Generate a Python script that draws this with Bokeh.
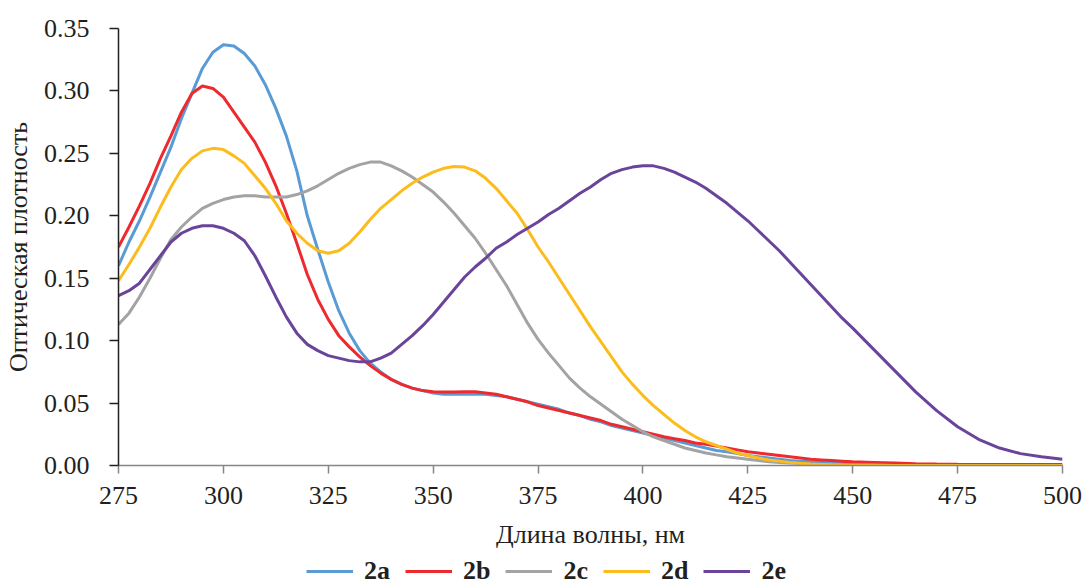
from bokeh.plotting import figure
from bokeh.layouts import column
from bokeh.models import FixedTicker, Legend, LegendItem, Range1d, NumeralTickFormatter
from bokeh.embed import file_html
from bokeh.resources import INLINE

# wavelength grid: 2.5 nm steps up to 450 nm, 5 nm steps afterwards
wavelength = [275 + 2.5 * i for i in range(71)] + [455, 460, 465, 470, 475, 480, 485, 490, 495, 500]

s2a = [0.160, 0.179, 0.196, 0.215, 0.235, 0.255, 0.278, 0.298, 0.318, 0.331,
       0.337, 0.336, 0.330, 0.320, 0.305, 0.286, 0.264, 0.236, 0.200, 0.173,
       0.147, 0.124, 0.106, 0.092, 0.082, 0.075, 0.069, 0.065, 0.062, 0.060,
       0.058, 0.057, 0.057, 0.057, 0.057, 0.057, 0.056, 0.055, 0.053, 0.051,
       0.049, 0.047, 0.045, 0.042, 0.040, 0.037, 0.035, 0.032, 0.030, 0.028,
       0.026, 0.024, 0.022, 0.020, 0.018, 0.016, 0.014, 0.012, 0.011, 0.0095,
       0.008, 0.007, 0.006, 0.005, 0.004, 0.0035, 0.003, 0.0025, 0.002, 0.0018,
       0.0015,
       0.001, 0.0008, 0.0006, 0.0005, 0.0004, 0.0003, 0.0002, 0.0002, 0.0001, 0.0001]
s2b = [0.175, 0.191, 0.208, 0.226, 0.246, 0.264, 0.283, 0.298, 0.304, 0.302,
       0.295, 0.283, 0.271, 0.259, 0.243, 0.224, 0.202, 0.178, 0.153, 0.133,
       0.117, 0.104, 0.095, 0.087, 0.080, 0.074, 0.069, 0.065, 0.062, 0.060,
       0.059, 0.0588, 0.0588, 0.059, 0.059, 0.058, 0.057, 0.055, 0.053, 0.051,
       0.048, 0.046, 0.044, 0.042, 0.040, 0.038, 0.036, 0.033, 0.031, 0.029,
       0.027, 0.025, 0.023, 0.0215, 0.020, 0.018, 0.017, 0.0155, 0.014, 0.0125,
       0.011, 0.010, 0.009, 0.008, 0.007, 0.006, 0.005, 0.0045, 0.004, 0.0035,
       0.003,
       0.0025, 0.002, 0.0015, 0.0012, 0.001, 0.0009, 0.0008, 0.0008, 0.0008, 0.0008]
s2c = [0.113, 0.122, 0.135, 0.150, 0.166, 0.181, 0.191, 0.199, 0.206, 0.210,
       0.213, 0.215, 0.216, 0.216, 0.215, 0.215, 0.215, 0.217, 0.220, 0.224,
       0.229, 0.234, 0.238, 0.241, 0.243, 0.243, 0.240, 0.236, 0.231, 0.225,
       0.219, 0.211, 0.202, 0.192, 0.182, 0.170, 0.157, 0.144, 0.129, 0.114,
       0.101, 0.090, 0.080, 0.070, 0.062, 0.055, 0.049, 0.043, 0.037, 0.032,
       0.027, 0.023, 0.020, 0.017, 0.014, 0.012, 0.010, 0.0085, 0.007, 0.006,
       0.005, 0.004, 0.003, 0.0025, 0.002, 0.0015, 0.001, 0.0008, 0.0006, 0.0004,
       0.0003,
       0.0002, 0.0001, 0.0, 0.0, 0.0, 0.0, 0.0, 0.0, 0.0, 0.0]
s2d = [0.148, 0.161, 0.175, 0.190, 0.207, 0.223, 0.237, 0.246, 0.252, 0.254,
       0.253, 0.248, 0.242, 0.232, 0.222, 0.210, 0.196, 0.186, 0.178, 0.172,
       0.170, 0.172, 0.178, 0.187, 0.197, 0.206, 0.213, 0.220, 0.226, 0.231,
       0.235, 0.238, 0.2395, 0.239, 0.236, 0.230, 0.222, 0.212, 0.202, 0.189,
       0.175, 0.163, 0.150, 0.137, 0.124, 0.111, 0.099, 0.087, 0.075, 0.065,
       0.056, 0.048, 0.041, 0.034, 0.028, 0.023, 0.019, 0.016, 0.013, 0.010,
       0.008, 0.006, 0.0045, 0.0035, 0.0025, 0.0018, 0.0012, 0.0009, 0.0006, 0.0004,
       0.0003,
       0.0002, 0.0001, 0.0001, 0.0, 0.0, 0.0, 0.0, 0.0, 0.0, 0.0]
s2e = [0.136, 0.140, 0.146, 0.157, 0.168, 0.179, 0.186, 0.190, 0.192, 0.192,
       0.190, 0.186, 0.180, 0.168, 0.152, 0.135, 0.119, 0.106, 0.097, 0.092,
       0.088, 0.086, 0.084, 0.083, 0.083, 0.086, 0.090, 0.097, 0.104, 0.112,
       0.121, 0.131, 0.141, 0.151, 0.159, 0.166, 0.174, 0.179, 0.185, 0.190,
       0.195, 0.201, 0.206, 0.212, 0.218, 0.223, 0.229, 0.234, 0.237, 0.239,
       0.240, 0.240, 0.238, 0.235, 0.231, 0.227, 0.222, 0.216, 0.210, 0.203,
       0.196, 0.188, 0.180, 0.172, 0.163, 0.154, 0.145, 0.136, 0.127, 0.118,
       0.110,
       0.093, 0.076, 0.059, 0.044, 0.031, 0.021, 0.014, 0.0095, 0.007, 0.005]

names = ["2a", "2b", "2c", "2d", "2e"]
series = [s2a, s2b, s2c, s2d, s2e]
colors = ["#5A9BD5", "#EE2A2F", "#A3A3A3", "#FDBC1E", "#6A449B"]

x_ticks = [275, 300, 325, 350, 375, 400, 425, 450, 475, 500]
y_ticks = [0.0, 0.05, 0.10, 0.15, 0.20, 0.25, 0.30, 0.35]

FONT = "Liberation Serif"
TXT = "#231F20"

MAIN_H = 554
LEG_H = 586 - MAIN_H

p = figure(width=1084, height=MAIN_H, output_backend="svg", toolbar_location=None,
           x_range=Range1d(275, 500), y_range=Range1d(0, 0.35),
           min_border_left=118, min_border_right=22, min_border_top=28,
           min_border_bottom=MAIN_H - 465)
p.outline_line_color = None
p.xgrid.grid_line_color = None
p.ygrid.grid_line_color = None

for s, c in zip(series, colors):
    p.line(wavelength, s, line_color=c, line_width=3)

xa = p.xaxis[0]
xa.ticker = FixedTicker(ticks=x_ticks)
xa.axis_label = "Длина волны, нм"
xa.axis_line_color = "#868686"
xa.axis_line_width = 1.5
xa.major_tick_line_color = "#868686"
xa.major_tick_line_width = 1.5
xa.major_tick_in = 0
xa.major_tick_out = 8
xa.minor_tick_line_color = None
xa.major_label_standoff = 13
xa.axis_label_standoff = 13

ya = p.yaxis[0]
ya.ticker = FixedTicker(ticks=y_ticks)
ya.formatter = NumeralTickFormatter(format="0.00")
ya.axis_label = "Оптическая плотность"
ya.axis_line_color = TXT
ya.axis_line_width = 1.5
ya.major_tick_line_color = TXT
ya.major_tick_line_width = 1.5
ya.major_tick_in = 0
ya.major_tick_out = 9
ya.minor_tick_line_color = None
ya.major_label_standoff = 20
ya.axis_label_standoff = 8

for ax in (xa, ya):
    ax.major_label_text_font = FONT
    ax.major_label_text_font_size = "26px"
    ax.major_label_text_color = TXT
    ax.axis_label_text_font = FONT
    ax.axis_label_text_font_size = "26px"
    ax.axis_label_text_font_style = "normal"
    ax.axis_label_text_color = TXT

# legend strip below the chart: its own small figure without axes, whose frame is
# aligned with the main frame. The same series are drawn there but lie outside
# its (0..1) ranges, so only the legend entries are visible.
pl = figure(width=1084, height=LEG_H, output_backend="svg", toolbar_location=None,
            x_range=Range1d(0, 1), y_range=Range1d(0, 1),
            x_axis_type=None, y_axis_type=None, min_border=0)
pl.outline_line_color = None
pl.xgrid.grid_line_color = None
pl.ygrid.grid_line_color = None
leg_renderers = [pl.line(wavelength, s, line_color=c, line_width=3)
                 for s, c in zip(series, colors)]

legend = Legend(items=[LegendItem(label=n, renderers=[r]) for n, r in zip(names, leg_renderers)],
                orientation="horizontal", location=(188, 0),
                glyph_width=47, glyph_height=20, label_standoff=11, spacing=15,
                padding=0, margin=0, border_line_color=None,
                background_fill_alpha=0,
                label_text_font=FONT, label_text_font_size="26px",
                label_text_font_style="bold", label_text_color=TXT)
pl.add_layout(legend, "center")

layout = column(p, pl, spacing=0)
open("out.html", "w").write(file_html(layout, INLINE))
